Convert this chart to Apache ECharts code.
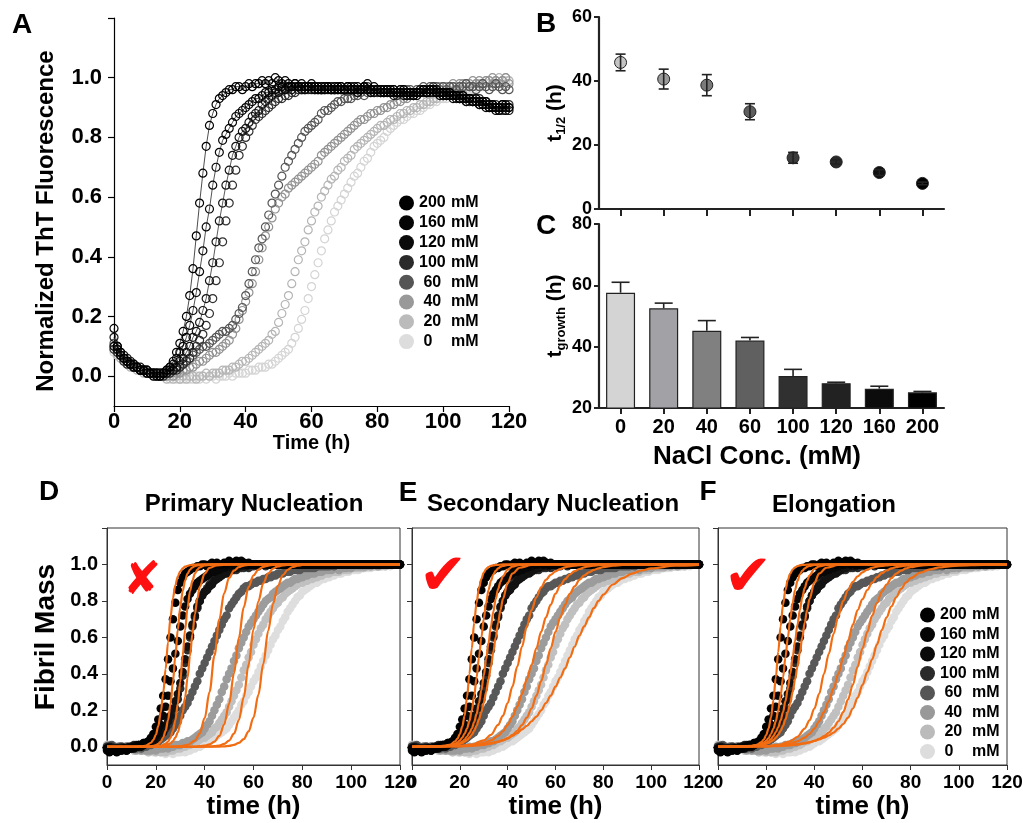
<!DOCTYPE html>
<html><head><meta charset="utf-8">
<script src="https://cdn.jsdelivr.net/npm/echarts@6/dist/echarts.min.js"></script>
<style>html,body{margin:0;padding:0;background:#fff}#c{width:1023px;height:823px}</style>
</head><body><div id="c"></div>
<script>
// ---------- categories / labels ----------
const NACL = ['0','20','40','60','100','120','160','200'];
const NAMES = ['0 mM','20 mM','40 mM','60 mM','100 mM','120 mM','160 mM','200 mM'];
const Y_LABELS = [0, 0.2, 0.4, 0.6, 0.8, 1.0];
const Y_TICKS = [0, 0.2, 0.4, 0.6, 0.8, 1.0, 1.2];
const T_STEP = 1; // hours between samples

// ---------- Panel B: t1/2 ----------
const T_HALF = [45.8, 40.6, 38.7, 30.4, 16.0, 14.7, 11.4, 8.0];
const T_HALF_ERR = [2.6, 3.1, 3.3, 2.5, 1.7, 0.7, 0.9, 0.4];
// ---------- Panel C: t growth ----------
const T_GROWTH = [57.6, 52.5, 45.2, 42.0, 30.4, 28.1, 26.3, 25.1];
const T_GROWTH_ERR = [3.4, 1.7, 3.3, 1.0, 2.2, 0.3, 0.8, 0.3];

// ---------- Panel A: normalized ThT, t = 0..120 h ----------
const THT_0 = [.08,.07,.06,.05,.04,.04,.03,.03,.02,.02, .02,.01,.01,.01,0,0,0,-.01,0,-.01, -.01,-.01,0,-.01,-.01,0,-.01,0,-.01,0,
 0,-.01,0,0,0,.01,0,.01,.01,.01, .01,.02,.02,.02,.03,.03,.03,.04,.04,.05, .06,.07,.08,.09,.11,.13,.16,.19,.22,.26,
 .30,.34,.38,.42,.46,.49,.52,.55,.57,.59, .61,.63,.65,.67,.68,.70,.72,.73,.75,.77, .78,.79,.80,.82,.83,.84,.85,.86,.86,.87,
 .88,.88,.89,.89,.90,.91,.91,.92,.92,.93, .93,.93,.94,.94,.95,.95,.95,.96,.96,.96, .97,.97,.97,.98,.98,.98,.99,.98,.99,.99,.99];
const THT_20 = [.09,.07,.06,.05,.04,.03,.03,.02,.02,.01, .01,.01,0,.01,0,0,-.01,0,-.01,0, -.01,0,-.01,0,0,-.01,0,0,.01,0,
 .01,.01,.01,.02,.02,.02,.03,.03,.04,.05, .05,.06,.07,.08,.09,.10,.11,.12,.14,.15, .18,.21,.24,.27,.31,.35,.39,.42,.45,.49,
 .52,.55,.57,.60,.62,.64,.66,.67,.69,.70, .72,.73,.74,.76,.77,.78,.79,.80,.81,.82, .83,.84,.84,.85,.86,.86,.87,.88,.88,.89,
 .89,.90,.90,.91,.91,.92,.92,.93,.93,.94, .94,.94,.95,.95,.96,.96,.96,.97,.97,.97, .98,.98,.98,.99,.99,.98,.99,1,.99,1,.99];
const THT_40 = [.10,.08,.07,.06,.05,.04,.03,.03,.02,.02, .01,.01,.01,0,.01,0,0,.01,0,.01, .01,.02,.02,.03,.03,.04,.05,.05,.06,.07,
 .08,.08,.09,.10,.11,.12,.14,.16,.19,.22, .25,.28,.31,.35,.39,.43,.47,.50,.53,.56, .58,.60,.61,.63,.64,.65,.66,.67,.68,.69,
 .70,.71,.72,.74,.75,.76,.77,.78,.79,.80, .81,.82,.83,.84,.85,.86,.86,.87,.88,.88, .89,.89,.90,.90,.91,.91,.92,.92,.93,.93,
 .94,.94,.94,.95,.95,.95,.96,.96,.96,.97, .97,.97,.97,.98,.97,.98,.98,.98,.98,.99, .98,.99,.98,.99,.99,1,.99,.98,.99,1,.98];
const THT_60 = [.11,.09,.07,.06,.05,.04,.03,.03,.02,.02, .02,.01,.01,.01,0,.01,.01,.02,.02,.03, .03,.04,.05,.06,.07,.08,.09,.10,.10,.11,
 .12,.13,.14,.15,.15,.16,.17,.19,.21,.23, .27,.31,.35,.39,.43,.46,.50,.54,.58,.61, .64,.67,.70,.72,.74,.76,.78,.80,.82,.83,
 .84,.85,.86,.88,.89,.89,.90,.91,.92,.92, .93,.93,.93,.94,.94,.95,.94,.95,.95,.95, .96,.95,.96,.95,.96,.96,.95,.96,.96,.96,
 .96,.95,.96,.96,.97,.96,.97,.96,.97,.96, .97,.96,.97,.97,.96,.97,.97,.98,.97,.97, .96,.97,.98,.97,.96,.97,.98,.97,.96,.97,.96];
const THT_100 = [.09,.08,.07,.05,.04,.04,.03,.03,.02,.02, .01,.01,.01,0,.01,0,.01,.01,.02,.02, .03,.04,.05,.06,.08,.10,.12,.14,.17,.21,
 .26,.32,.38,.45,.52,.58,.64,.69,.74,.77, .80,.82,.84,.86,.87,.88,.89,.90,.91,.92, .93,.93,.94,.94,.95,.95,.96,.96,.96,.96,
 .97,.96,.97,.96,.96,.97,.96,.96,.97,.96, .96,.97,.96,.96,.95,.96,.96,.97,.96,.96, .95,.96,.95,.96,.95,.95,.94,.95,.95,.94,
 .95,.94,.95,.95,.96,.95,.96,.97,.96,.95, .95,.94,.95,.94,.94,.93,.94,.93,.92,.93, .92,.93,.91,.92,.91,.90,.91,.90,.89,.90,.91];
const THT_120 = [.13,.10,.08,.07,.06,.05,.04,.03,.03,.02, .02,.01,.01,.01,0,.01,.01,.02,.02,.03, .05,.06,.08,.10,.13,.15,.18,.22,.26,.32,
 .38,.45,.52,.58,.64,.69,.74,.77,.80,.82, .83,.85,.87,.88,.89,.91,.92,.93,.94,.95, .95,.96,.96,.97,.96,.97,.97,.96,.97,.97,
 .96,.97,.96,.96,.97,.96,.97,.96,.96,.97, .96,.96,.97,.96,.95,.96,.97,.96,.96,.95, .96,.95,.95,.96,.95,.94,.95,.95,.94,.95,
 .94,.95,.95,.96,.95,.96,.96,.95,.96,.95, .94,.95,.94,.94,.93,.94,.93,.92,.93,.92, .92,.91,.92,.91,.90,.91,.90,.89,.91,.90,.89];
const THT_160 = [.10,.09,.07,.06,.05,.04,.03,.03,.02,.02, .02,.01,.01,0,.01,.01,.02,.03,.04,.06, .08,.10,.13,.17,.22,.28,.35,.42,.50,.56,
 .64,.70,.75,.79,.81,.83,.85,.87,.88,.89, .90,.91,.92,.93,.93,.94,.95,.95,.96,.96, .97,.97,.96,.97,.97,.98,.97,.97,.96,.97,
 .97,.96,.97,.96,.97,.97,.96,.96,.97,.96, .96,.97,.96,.97,.96,.96,.97,.96,.95,.96, .96,.95,.96,.95,.96,.95,.95,.96,.95,.94,
 .95,.95,.94,.95,.96,.95,.95,.96,.95,.94, .94,.95,.94,.93,.94,.93,.93,.92,.93,.92, .92,.91,.92,.90,.91,.90,.90,.89,.90,.91,.90];
const THT_200 = [.16,.10,.08,.06,.05,.04,.04,.03,.02,.02, .01,.01,0,.01,0,.01,.02,.03,.05,.08, .11,.15,.20,.27,.36,.47,.58,.68,.77,.84,
 .88,.91,.93,.94,.95,.96,.96,.97,.97,.96, .97,.98,.97,.98,.98,.99,.98,.99,.98,1, .99,.98,.99,.98,.97,.98,.97,.98,.97,.97,
 .98,.97,.96,.97,.96,.97,.96,.97,.96,.97, .96,.97,.96,.96,.97,.96,.97,.98,.96,.97, .96,.96,.95,.96,.95,.96,.95,.95,.96,.95,
 .95,.94,.95,.95,.96,.95,.96,.96,.95,.95, .95,.94,.95,.94,.94,.93,.94,.93,.93,.92, .93,.92,.91,.92,.90,.91,.89,.90,.91,.89,.90];

// ---------- Panels D-F: fibril mass data, t = 0..120 h ----------
const MASS_0 = [.01,0,-.01,0,-.01,0,-.01,-.01,0,-.01, -.01,-.02,-.01,-.02,-.01,-.02,-.02,-.03,-.02,-.03, -.03,-.02,-.03,-.03,-.04,-.03,-.03,-.04,-.03,-.03,
 -.03,-.02,-.03,-.02,-.02,-.01,-.01,0,0,.01, .02,.03,.03,.04,.05,.06,.07,.08,.09,.10, .12,.14,.16,.18,.20,.23,.25,.28,.30,.33,
 .36,.38,.41,.44,.47,.50,.53,.56,.59,.61, .64,.66,.69,.71,.74,.76,.78,.80,.82,.83, .85,.86,.87,.88,.89,.90,.90,.91,.92,.92,
 .93,.93,.94,.94,.95,.95,.95,.96,.96,.96, .97,.97,.97,.97,.98,.98,.98,.98,.98,.99, .99,.99,.99,.99,.99,1,.99,1,1,1,1];
const MASS_20 = [.01,0,0,-.01,0,-.01,-.01,0,-.01,-.01, -.01,-.02,-.01,-.01,-.02,-.02,-.02,-.03,-.02,-.02, -.03,-.02,-.03,-.02,-.03,-.02,-.02,-.02,-.01,-.01,
 -.01,0,0,.01,.01,.02,.03,.03,.04,.05, .05,.06,.07,.08,.10,.11,.13,.15,.17,.19, .22,.25,.28,.31,.34,.38,.42,.45,.49,.52,
 .56,.59,.62,.65,.67,.70,.72,.74,.76,.78, .79,.81,.82,.84,.85,.86,.87,.88,.89,.90, .90,.91,.91,.92,.92,.93,.93,.94,.94,.95,
 .95,.95,.96,.96,.96,.96,.97,.97,.97,.97, .98,.98,.98,.98,.98,.98,.99,.99,.99,.99, .99,.99,.99,1,.99,1,1,1,1,1,1];
const MASS_40 = [0,.01,-.01,0,-.01,0,-.01,-.01,0,-.01, -.01,-.01,-.02,-.01,-.02,-.01,-.02,-.02,-.02,-.01, -.02,-.01,-.01,-.01,0,-.01,0,0,.01,.01,
 .01,.02,.02,.03,.03,.04,.05,.06,.07,.08, .10,.12,.14,.17,.20,.23,.26,.30,.33,.37, .40,.43,.47,.50,.54,.57,.60,.63,.66,.68,
 .70,.72,.74,.76,.78,.80,.81,.82,.84,.85, .86,.87,.88,.89,.90,.90,.91,.92,.92,.93, .93,.94,.94,.95,.95,.95,.96,.96,.96,.97,
 .97,.97,.97,.98,.98,.97,.98,.98,.98,.99, .98,.99,.99,.99,.99,.99,.99,1,.99,1, 1,.99,1,1,1,1,1,1,1,1,1];
const MASS_60 = [0,-.01,.01,0,-.01,0,0,-.01,0,-.01, 0,-.01,-.01,0,-.01,0,0,.01,.01,.02, .02,.03,.04,.05,.06,.07,.08,.10,.12,.14,
 .17,.20,.22,.24,.27,.30,.33,.36,.40,.43, .46,.49,.52,.55,.58,.61,.64,.67,.70,.72, .76,.78,.80,.82,.84,.85,.87,.88,.88,.89,
 .90,.90,.91,.91,.92,.92,.93,.93,.94,.94, .95,.95,.95,.96,.96,.96,.97,.97,.97,.97, .98,.98,.98,.98,.98,.98,.99,.99,.99,.99,
 .99,.99,1,.99,1,1,1,1,1,1, 1,1,1,1,1,1,1,1,1,1, 1,1,1,1,1,1,1,1,1,1,1];
const MASS_100 = [0,-.01,0,-.02,-.01,-.01,0,-.01,-.02,-.01, 0,.01,0,.01,.01,.02,.02,.03,.03,.04, .05,.06,.07,.08,.10,.12,.14,.17,.21,.26,
 .32,.39,.46,.53,.60,.66,.71,.76,.80,.83, .85,.87,.89,.91,.92,.93,.94,.95,.95,.96, .96,.97,.97,.97,.98,.98,.98,.99,.98,.99,
 .99,1,.99,1,1,.99,1,1,1,1, 1,1,1,1,1,1,1,1,1,1, 1,1,1,1,1,1,1,1,1,1,
 1,1,1,1,1,1,1,1,1,1, 1,1,1,1,1,1,1,1,1,1, 1,1,1,1,1,1,1,1,1,1,1];
const MASS_120 = [-.01,0,-.02,-.01,-.02,-.01,-.02,-.01,-.01,0, -.01,0,.01,0,.01,.01,.02,.02,.03,.03, .04,.05,.06,.08,.11,.14,.17,.21,.25,.29,
 .35,.41,.48,.55,.61,.67,.72,.77,.80,.83, .85,.86,.88,.89,.91,.92,.93,.94,.95,.95, .97,.97,.98,.98,.99,.99,1,.99,1,1,
 1,1,1,1,1,1,1,1,1,1, 1,1,1,1,1,1,1,1,1,1, 1,1,1,1,1,1,1,1,1,1,
 1,1,1,1,1,1,1,1,1,1, 1,1,1,1,1,1,1,1,1,1, 1,1,1,1,1,1,1,1,1,1,1];
const MASS_160 = [-.02,-.01,-.02,-.02,-.01,-.02,-.01,-.01,-.02,-.01, 0,-.01,0,.01,0,.01,.02,.02,.03,.04, .06,.08,.12,.17,.22,.28,.36,.43,.51,.58,
 .66,.72,.77,.81,.84,.86,.88,.90,.91,.92, .93,.94,.95,.96,.96,.97,.97,.98,.98,.99, .99,1,1.01,1,1.01,1.02,1.01,1,1.01,1,
 1,1,1,1,1,1,1,1,1,1, 1,1,1,1,1,1,1,1,1,1, 1,1,1,1,1,1,1,1,1,1,
 1,1,1,1,1,1,1,1,1,1, 1,1,1,1,1,1,1,1,1,1, 1,1,1,1,1,1,1,1,1,1,1];
const MASS_200 = [-.01,-.03,-.02,-.02,-.03,-.02,-.02,-.01,-.02,-.01, -.01,0,0,.01,.01,.02,.02,.03,.05,.07, .11,.15,.21,.28,.37,.48,.60,.70,.79,.86,
 .90,.93,.95,.96,.97,.98,.98,.99,.99,1, 1,.99,1,1.01,1,1.01,1,1,1.01,1, 1.02,1.01,1,1.02,1.01,1,1.01,1,1,1,
 1,1,1,1,1,1,1,1,1,1, 1,1,1,1,1,1,1,1,1,1, 1,1,1,1,1,1,1,1,1,1,
 1,1,1,1,1,1,1,1,1,1, 1,1,1,1,1,1,1,1,1,1, 1,1,1,1,1,1,1,1,1,1,1];

// ---------- fitted curves ----------
const FIT_FAST_T = [0,10,14,16,18,19,20,21,22,23,24,25,26,27,28,29,30,31,32,33,34,35,36,37,38,40,42,45,50,60,80,120];
const FIT_SLOW_T = [0,20,25,30,33,36,38,40,42,44,46,48,50,52,54,56,58,60,62,64,66,68,70,72,74,76,78,80,84,88,92,96,100,110,120];

// D: primary nucleation
const FIT_D_0 = [0,0,0,0,0,0,0,0,0,0,.001,.002,.005,.01,.021,.042,.084,.16,.285,.454,.635,.784,.883,.941,.971,.986,.993,.997,.999,1,1,1,1,1,1];
const FIT_D_20 = [0,0,0,0,0,0,0,.001,.002,.003,.007,.016,.034,.072,.146,.272,.451,.644,.798,.897,.951,.977,.99,.995,.998,.999,1,1,1,1,1,1,1,1,1];
const FIT_D_40 = [0,0,0,0,0,.001,.003,.006,.013,.028,.06,.123,.235,.403,.597,.765,.877,.94,.972,.987,.994,.997,.999,1,1,1,1,1,1,1,1,1,1,1,1];
const FIT_D_60 = [0,0,0,.003,.01,.034,.074,.157,.301,.5,.699,.843,.926,.966,.985,.994,.997,.999,1,1,1,1,1,1,1,1,1,1,1,1,1,1,1,1,1];
const FIT_D_100 = [0,0,0,0,0,.001,.001,.002,.003,.005,.007,.012,.019,.031,.05,.079,.123,.187,.273,.38,.5,.62,.727,.813,.877,.95,.981,.995,1,1,1,1];
const FIT_D_120 = [0,0,0,0,0,.001,.002,.003,.005,.009,.016,.028,.05,.087,.146,.235,.357,.5,.643,.765,.854,.913,.95,.972,.984,.995,.998,1,1,1,1,1];
const FIT_D_160 = [0,0,0,.001,.003,.005,.009,.016,.028,.05,.087,.146,.235,.357,.5,.643,.765,.854,.913,.95,.972,.984,.991,.995,.997,.999,1,1,1,1,1,1];
const FIT_D_200 = [0,0,.002,.007,.022,.038,.066,.113,.186,.292,.427,.573,.708,.814,.887,.934,.962,.978,.988,.993,.996,.998,.999,1,1,1,1,1,1,1,1,1];
// E: secondary nucleation
const FIT_E_0 = [0,.005,.008,.015,.02,.028,.035,.045,.06,.075,.095,.115,.14,.165,.2,.24,.28,.33,.38,.43,.49,.55,.61,.66,.71,.76,.8,.835,.89,.925,.95,.967,.978,.993,.998];
const FIT_E_20 = [0,.002,.005,.01,.017,.027,.036,.048,.065,.088,.12,.16,.21,.28,.36,.45,.54,.63,.71,.78,.84,.88,.915,.94,.957,.97,.979,.985,.993,.997,.999,1,1,1,1];
const FIT_E_40 = [0,.003,.008,.02,.035,.06,.085,.12,.165,.22,.29,.37,.45,.54,.63,.71,.78,.84,.885,.92,.945,.963,.975,.984,.99,.993,.996,.997,.999,1,1,1,1,1,1];
const FIT_E_60 = [0,.005,.012,.035,.065,.12,.17,.24,.33,.44,.55,.66,.75,.82,.875,.915,.943,.962,.975,.984,.99,.994,.996,.998,.999,1,1,1,1,1,1,1,1,1,1];
const FIT_E_100 = [0,.001,.003,.005,.009,.012,.016,.021,.028,.037,.05,.066,.087,.115,.15,.19,.24,.3,.37,.44,.52,.6,.68,.75,.81,.9,.95,.982,.997,1,1,1];
const FIT_E_120 = [0,.001,.003,.006,.011,.015,.02,.028,.04,.055,.075,.1,.135,.18,.24,.31,.39,.48,.57,.66,.74,.81,.865,.905,.935,.972,.988,.997,1,1,1,1];
const FIT_E_160 = [0,.001,.004,.008,.016,.024,.035,.05,.072,.1,.14,.2,.28,.38,.49,.6,.7,.79,.86,.91,.945,.965,.978,.987,.992,.997,.999,1,1,1,1,1];
const FIT_E_200 = [0,.002,.006,.012,.03,.045,.07,.11,.17,.27,.4,.54,.68,.79,.87,.92,.955,.975,.986,.992,.995,.997,.998,.999,1,1,1,1,1,1,1,1];
// F: elongation
const FIT_F_0 = [0,.003,.006,.01,.014,.02,.025,.032,.04,.05,.062,.078,.1,.125,.16,.21,.27,.34,.41,.48,.56,.64,.71,.77,.82,.865,.9,.925,.955,.973,.984,.99,.994,.998,1];
const FIT_F_20 = [0,.002,.004,.008,.012,.018,.024,.032,.043,.058,.078,.105,.14,.19,.26,.34,.44,.54,.63,.72,.79,.85,.89,.925,.95,.966,.978,.985,.994,.998,1,1,1,1,1];
const FIT_F_40 = [0,.003,.007,.017,.03,.05,.07,.1,.14,.19,.25,.32,.4,.49,.58,.67,.75,.81,.86,.9,.93,.952,.967,.978,.985,.99,.993,.995,.998,.999,1,1,1,1,1];
const FIT_F_60 = [0,.004,.01,.03,.055,.1,.145,.21,.29,.4,.51,.62,.72,.8,.86,.905,.935,.957,.972,.982,.988,.992,.995,.997,.998,.999,1,1,1,1,1,1,1,1,1];
const FIT_F_100 = [0,.001,.003,.005,.009,.012,.016,.021,.028,.037,.05,.066,.087,.115,.15,.19,.24,.3,.37,.44,.52,.6,.68,.75,.81,.9,.95,.982,.997,1,1,1];
const FIT_F_120 = [0,.001,.003,.006,.011,.015,.021,.03,.042,.058,.08,.107,.145,.19,.25,.32,.4,.49,.58,.67,.75,.82,.87,.91,.94,.975,.99,.997,1,1,1,1];
const FIT_F_160 = [0,.001,.004,.008,.016,.023,.033,.048,.07,.1,.14,.2,.28,.38,.49,.6,.7,.79,.86,.91,.945,.965,.978,.987,.992,.997,.999,1,1,1,1,1];
const FIT_F_200 = [0,.002,.005,.01,.026,.04,.064,.1,.16,.255,.38,.52,.66,.78,.86,.915,.95,.972,.984,.991,.995,.997,.998,.999,1,1,1,1,1,1,1,1];

// ---------- styling ----------
const FONT = '"Liberation Sans", Arial, Helvetica, sans-serif';
const A_COLORS = ['#d4d4d4','#b5b5b5','#929292','#565656','#303030','#141414','#080808','#000000'];
const DF_COLORS = ['#dedede','#c0c0c0','#9c9c9c','#585858','#2e2e2e','#121212','#080808','#000000'];
const LEG_COLORS = ['#dddddd','#bbbbbb','#999999','#555555','#2a2a2a','#0a0a0a','#050505','#000000'];
const B_COLORS = ['#c4c4c4','#9a9a9a','#7a7a7a','#5e5e5e','#3c3c3c','#2a2a2a','#111111','#000000'];
const C_COLORS = ['#d4d4d4','#a2a2a6','#808080','#606060','#303030','#222222','#0c0c0c','#000000'];
const ORANGE = '#f26c12';

const THT = [THT_0, THT_20, THT_40, THT_60, THT_100, THT_120, THT_160, THT_200];
const MASS = [MASS_0, MASS_20, MASS_40, MASS_60, MASS_100, MASS_120, MASS_160, MASS_200];
const FITS = [
  [FIT_D_0, FIT_D_20, FIT_D_40, FIT_D_60, FIT_D_100, FIT_D_120, FIT_D_160, FIT_D_200],
  [FIT_E_0, FIT_E_20, FIT_E_40, FIT_E_60, FIT_E_100, FIT_E_120, FIT_E_160, FIT_E_200],
  [FIT_F_0, FIT_F_20, FIT_F_40, FIT_F_60, FIT_F_100, FIT_F_120, FIT_F_160, FIT_F_200]
];
const FIT_TIMES = [FIT_SLOW_T, FIT_SLOW_T, FIT_SLOW_T, FIT_SLOW_T, FIT_FAST_T, FIT_FAST_T, FIT_FAST_T, FIT_FAST_T];

const toPts = arr => arr.map((v, i) => [i * T_STEP, v]);
const fitPts = (ts, vs) => ts.map((t, i) => [t, vs[i]]);
const BOLD = {fontFamily: FONT, fontWeight: 'bold', color: '#000'};

const series = [];
// Panel A
THT.forEach((arr, i) => {
  const withLine = i >= 5;
  series.push({
    type: withLine ? 'line' : 'scatter', name: 'ThT ' + NAMES[i], xAxisIndex: 0, yAxisIndex: 0,
    data: toPts(arr), symbol: 'circle', symbolSize: 8, showSymbol: true, showAllSymbol: true,
    itemStyle: {color: 'rgba(255,255,255,0)', borderColor: A_COLORS[i], borderWidth: 1.2, opacity: 1},
    lineStyle: {color: A_COLORS[i], width: 0.7},
    silent: true, z: 2 + i
  });
});
// Panels D-F
for (let p = 0; p < 3; p++) {
  MASS.forEach((arr, i) => {
    series.push({
      type: 'scatter', name: NAMES[i], xAxisIndex: 3 + p, yAxisIndex: 4 + p,
      data: toPts(arr), symbol: 'circle', symbolSize: 8.5,
      itemStyle: {color: DF_COLORS[i], opacity: 1}, silent: true, z: 2 + i
    });
  });
  FITS[p].forEach((arr, i) => {
    series.push({
      type: 'line', name: 'fit' + p + '_' + i, xAxisIndex: 3 + p, yAxisIndex: 4 + p,
      data: fitPts(FIT_TIMES[i], arr), smooth: 0.35, smoothMonotone: 'x', showSymbol: false,
      lineStyle: {color: ORANGE, width: 2.2}, silent: true, z: 20
    });
  });
}
// Panel B
series.push({
  type: 'scatter', name: 'thalf', xAxisIndex: 1, yAxisIndex: 1,
  data: T_HALF.map((v, i) => ({value: v, itemStyle: {color: B_COLORS[i]}})),
  symbol: 'circle', symbolSize: 12, itemStyle: {borderColor: '#222', borderWidth: 1, opacity: 1}, z: 5, silent: true
});
series.push({
  type: 'custom', name: 'thalfErr', xAxisIndex: 1, yAxisIndex: 1,
  data: T_HALF.map((v, i) => [i, v, T_HALF_ERR[i]]), encode: {x: 0, y: 1}, z: 6, silent: true,
  renderItem: (params, api) => {
    const i = api.value(0), v = api.value(1), e = api.value(2);
    const hi = api.coord([i, v + e]), lo = api.coord([i, v - e]);
    const hw = 5, st = {stroke: '#222', lineWidth: 1.6};
    return {type: 'group', children: [
      {type: 'line', shape: {x1: hi[0], y1: hi[1], x2: lo[0], y2: lo[1]}, style: st},
      {type: 'line', shape: {x1: hi[0] - hw, y1: hi[1], x2: hi[0] + hw, y2: hi[1]}, style: st},
      {type: 'line', shape: {x1: lo[0] - hw, y1: lo[1], x2: lo[0] + hw, y2: lo[1]}, style: st}
    ]};
  }
});
// Panel C
series.push({
  type: 'bar', name: 'tgrowth', xAxisIndex: 2, yAxisIndex: 2, barWidth: 29,
  data: T_GROWTH.map((v, i) => ({value: v, itemStyle: {color: C_COLORS[i]}})),
  itemStyle: {borderColor: '#222', borderWidth: 1.2}, z: 3, silent: true
});
series.push({
  type: 'custom', name: 'tgrowthErr', xAxisIndex: 2, yAxisIndex: 2,
  data: T_GROWTH.map((v, i) => [i, v, T_GROWTH_ERR[i]]), encode: {x: 0, y: 1}, z: 6, silent: true,
  renderItem: (params, api) => {
    const i = api.value(0), v = api.value(1), e = api.value(2);
    const hi = api.coord([i, v + e]), lo = api.coord([i, v]);
    const hw = 9, st = {stroke: '#222', lineWidth: 1.6};
    return {type: 'group', children: [
      {type: 'line', shape: {x1: hi[0], y1: hi[1], x2: lo[0], y2: lo[1]}, style: st},
      {type: 'line', shape: {x1: hi[0] - hw, y1: hi[1], x2: hi[0] + hw, y2: hi[1]}, style: st}
    ]};
  }
});

// ---------- axes ----------
const thinLine = {show: true, onZero: false, lineStyle: {color: '#000', width: 1.2}};
const thinTick = {show: true, length: 6, lineStyle: {color: '#000', width: 1.2}};
const thickLine = {show: true, onZero: false, lineStyle: {color: '#222', width: 2.2}};
const dfLine = {show: true, onZero: false, lineStyle: {color: '#333', width: 1}};
const dfTick = {show: true, length: 5, lineStyle: {color: '#333', width: 1}};

const xAxis = [
  {gridIndex: 0, type: 'value', min: 0, max: 120, interval: 20, axisLine: thinLine, axisTick: thinTick,
   axisLabel: {...BOLD, fontSize: 22, margin: 5}, splitLine: {show: false},
   name: 'Time (h)', nameLocation: 'middle', nameGap: 26, nameTextStyle: {...BOLD, fontSize: 20}},
  {gridIndex: 1, type: 'category', data: NACL, axisLine: thickLine,
   axisTick: {show: true, alignWithLabel: true, length: 7, lineStyle: {color: '#222', width: 2}},
   axisLabel: {show: false}, splitLine: {show: false}},
  {gridIndex: 2, type: 'category', data: NACL, axisLine: thickLine,
   axisTick: {show: true, alignWithLabel: true, length: 6, lineStyle: {color: '#222', width: 2}},
   axisLabel: {...BOLD, fontSize: 20, margin: 9, interval: 0}, splitLine: {show: false}}
];
for (let p = 0; p < 3; p++) {
  xAxis.push({gridIndex: 3 + p, type: 'value', min: 0, max: 120, interval: 20, axisLine: dfLine, axisTick: dfTick,
    axisLabel: {...BOLD, fontSize: 19, margin: 8}, splitLine: {show: false},
    name: 'time (h)', nameLocation: 'middle', nameGap: 29, nameTextStyle: {...BOLD, fontSize: 26}});
}
const yAxis = [
  {gridIndex: 0, type: 'value', min: -0.1, max: 1.2, axisLine: thinLine,
   axisTick: {...thinTick, customValues: Y_TICKS},
   axisLabel: {...BOLD, fontSize: 22, margin: 12, customValues: Y_LABELS, formatter: v => Number(v).toFixed(1)},
   splitLine: {show: false}},
  {gridIndex: 1, type: 'value', min: 0, max: 60, interval: 20, axisLine: thickLine,
   axisTick: {show: true, length: 5, lineStyle: {color: '#222', width: 2}},
   axisLabel: {...BOLD, fontSize: 18, margin: 7}, splitLine: {show: false},
   name: '{t|t}{s|1/2}{t| (h)}', nameLocation: 'middle', nameGap: 31,
   nameTextStyle: {rich: {t: {...BOLD, fontSize: 21, lineHeight: 26}, s: {...BOLD, fontSize: 13, lineHeight: 13, verticalAlign: 'bottom'}}}},
  {gridIndex: 2, type: 'value', min: 20, max: 80, interval: 20, axisLine: thickLine,
   axisTick: {show: true, length: 5, lineStyle: {color: '#222', width: 2}},
   axisLabel: {...BOLD, fontSize: 18, margin: 7}, splitLine: {show: false},
   name: '{t|t}{s|growth}{t| (h)}', nameLocation: 'middle', nameGap: 31,
   nameTextStyle: {rich: {t: {...BOLD, fontSize: 21, lineHeight: 26}, s: {...BOLD, fontSize: 13, lineHeight: 13, verticalAlign: 'bottom'}}}},
  {gridIndex: 0, type: 'value', show: false, min: -0.1, max: 1.2}
];
for (let p = 0; p < 3; p++) {
  yAxis.push({gridIndex: 3 + p, type: 'value', min: -0.1, max: 1.2, axisLine: dfLine,
    axisTick: {...dfTick, customValues: Y_TICKS},
    axisLabel: p === 0 ? {...BOLD, fontSize: 20, margin: 9, customValues: Y_LABELS, formatter: v => Number(v).toFixed(1)} : {show: false},
    splitLine: {show: false}});
}

const grid = [
  {left: 114, top: 18, width: 395, height: 388},
  {left: 599, top: 17, width: 345, height: 192},
  {left: 599, top: 224, width: 345, height: 184},
  {left: 107, top: 528, width: 293, height: 237, show: true, borderColor: '#333', borderWidth: 1, backgroundColor: 'transparent'},
  {left: 412, top: 528, width: 287, height: 237, show: true, borderColor: '#333', borderWidth: 1, backgroundColor: 'transparent'},
  {left: 718, top: 528, width: 289, height: 237, show: true, borderColor: '#333', borderWidth: 1, backgroundColor: 'transparent'}
].map(g => Object.assign({containLabel: false, outerBoundsMode: 'none'}, g));

const LEG_ORDER = [7, 6, 5, 4, 3, 2, 1, 0];
const legendRich = {a: {...BOLD, fontSize: 16, width: 32}, b: {...BOLD, fontSize: 16}};
const legendFmt = name => {
  const n = NACL[NAMES.indexOf(name)];
  return '{a|' + (n.length >= 3 ? n : ' ' + n) + '}{b|mM}';
};
const legendData = LEG_ORDER.map(i => ({name: NAMES[i], icon: 'circle', itemStyle: {color: LEG_COLORS[i], borderWidth: 0, opacity: 1}}));
const legend = [
  {left: 394, top: 190, orient: 'vertical', itemWidth: 15, itemHeight: 15, itemGap: 3.8, selectedMode: false,
   data: legendData, formatter: legendFmt, textStyle: {...BOLD, fontSize: 16, rich: legendRich}},
  {left: 915, top: 602, orient: 'vertical', itemWidth: 15, itemHeight: 15, itemGap: 3.5, selectedMode: false,
   data: legendData, formatter: legendFmt, textStyle: {...BOLD, fontSize: 16, rich: legendRich}}
];

const txt = (text, x, y, size, extra) => ({type: 'text', x: x, y: y, silent: true, z: 50,
  style: Object.assign({text: text, font: 'bold ' + size + 'px ' + FONT, fill: '#000',
    align: 'center', verticalAlign: 'middle', textAlign: 'center', textVerticalAlign: 'middle'}, extra || {})});
const vtxt = (text, x, y, size) => Object.assign(txt(text, x, y, size), {rotation: Math.PI / 2});
const graphic = [
  txt('A', 22, 25, 28), txt('B', 546, 24, 28), txt('C', 546, 226, 28),
  txt('D', 49, 492, 28), txt('E', 408, 493, 28), txt('F', 708, 492, 28),
  txt('Primary Nucleation', 254, 504, 24), txt('Secondary Nucleation', 553, 504, 24), txt('Elongation', 834, 505, 24),
  txt('NaCl Conc. (mM)', 757, 457, 26),
  vtxt('Normalized ThT Fluorescence', 46, 221, 24),
  vtxt('Fibril Mass', 46, 637, 28),
  txt('\u2718', 142, 582, 46, {font: 'bold 46px "DejaVu Sans"', fill: '#ff1010'}),
  txt('\u2714', 443, 579, 58, {font: 'bold 58px "DejaVu Sans"', fill: '#ff1010'}),
  txt('\u2714', 748, 580, 58, {font: 'bold 58px "DejaVu Sans"', fill: '#ff1010'})
];

const chart = echarts.init(document.getElementById('c'), null, {renderer: 'canvas'});
chart.setOption({
  animation: false, backgroundColor: '#ffffff',
  textStyle: {fontFamily: FONT},
  grid: grid, xAxis: xAxis, yAxis: yAxis, legend: legend, series: series, graphic: graphic
});
</script>
</body></html>
